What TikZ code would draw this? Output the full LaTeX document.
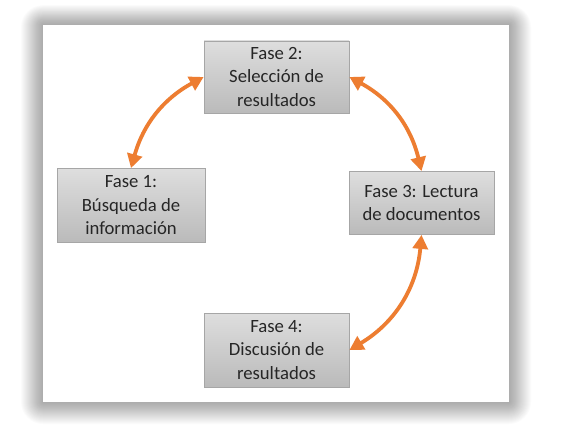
\documentclass[tikz,border=0pt]{standalone}
\usepackage{fontspec}
\setmainfont{Carlito}
\usetikzlibrary{arrows.meta}
\definecolor{arrorange}{HTML}{ED7D31}
\definecolor{txtgray}{HTML}{262626}
\definecolor{boxborder}{HTML}{A6A6A6}
\tikzset{
  phase/.style={draw=boxborder, line width=0.8pt, top color=black!13, bottom color=black!27,
    minimum width=145pt, minimum height=73pt, inner sep=2pt, align=center,
    text=txtgray, font=\fontsize{18.7}{23.5}\selectfont},
  cyc/.style={draw=arrorange, line width=3.8pt,
    {Triangle[width=15pt,length=14pt]}-{Triangle[width=15pt,length=14pt]}},
  shadowring/.style={fill=black, fill opacity=0.014, draw=none}
}
\begin{document}
\begin{tikzpicture}[x=1pt,y=-1pt]
\useasboundingbox (0,0) rectangle (564,428);
\fill[white] (0,0) rectangle (564,428);
\foreach \d in {1,...,22}{
  \path[shadowring, rounded corners=\d pt] ({43-\d},{25-0.9*\d}) rectangle ({509+\d},{402+\d});
}
\fill[white] (43,25) rectangle (509,402);
\node[phase] (f1) at (131,205.5) [minimum width=148pt, minimum height=74pt] {Fase 1:\\Búsqueda de\\información};
\node[phase] (f2) at (276.5,77) [minimum height=72pt] {Fase 2:\\Selección de\\resultados};
\node[phase] (f3) at (421.5,203) [minimum height=63pt] {Fase 3: Lectura\\de documentos};
\node[phase] (f4) at (276.5,350) [minimum height=74pt] {Fase 4:\\Discusión de\\resultados};
\draw[cyc] (f1.north) to[bend left=23] (f2.west);
\draw[cyc] (f2.east) to[bend left=24] (f3.north);
\draw[cyc] (f3.south) to[bend left=27] (f4.east);
\end{tikzpicture}
\end{document}
